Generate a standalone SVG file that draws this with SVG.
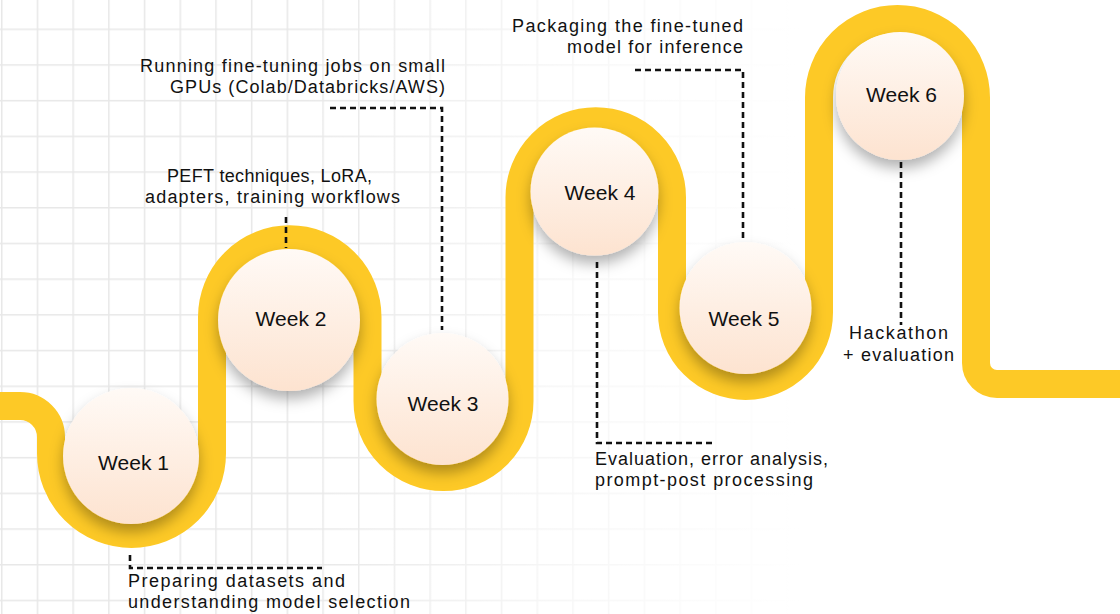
<svg xmlns="http://www.w3.org/2000/svg" width="1120" height="614" viewBox="0 0 1120 614">
  <style>
    .road { fill: none; stroke: #FDC926; stroke-width: 28; stroke-linecap: butt; stroke-linejoin: round; }
    .node { fill: url(#nodeFill); filter: url(#shadow); }
    .wk { font-family: "Liberation Sans", Arial, sans-serif; font-size: 21px; fill: #111; text-anchor: middle; }
    .desc { font-family: "Liberation Sans", Arial, sans-serif; font-size: 18px; fill: #111; }
    .dot { fill: none; stroke: #111; stroke-width: 2.6; stroke-dasharray: 6 4; }
  </style>
  <defs>
    <pattern id="grid" patternUnits="userSpaceOnUse" x="1" y="28.5" width="35.7" height="35.7">
      <path d="M0,0.75 H35.7 M0.75,0 V35.7" stroke="#e8e8e8" stroke-width="1.5" fill="none"/>
    </pattern>
    <linearGradient id="fade" gradientUnits="userSpaceOnUse" x1="300" y1="0" x2="800" y2="0">
      <stop offset="0" stop-color="#ffffff" stop-opacity="0"/>
      <stop offset="0.5" stop-color="#ffffff" stop-opacity="0.6"/>
      <stop offset="1" stop-color="#ffffff" stop-opacity="1"/>
    </linearGradient>
    <linearGradient id="nodeFill" x1="0" y1="0" x2="0" y2="1">
      <stop offset="0" stop-color="#FFFAF6"/>
      <stop offset="1" stop-color="#FDE3D0"/>
    </linearGradient>
    <filter id="shadow" x="-30%" y="-30%" width="160%" height="170%">
      <feDropShadow dx="0" dy="8" stdDeviation="7" flood-color="#000" flood-opacity="0.3"/>
    </filter>
  </defs>

  <rect width="1120" height="614" fill="#fff"/>
  <rect x="0" y="0" width="800" height="614" fill="url(#grid)"/>
  <rect x="300" y="0" width="510" height="614" fill="url(#fade)"/>

  <g id="road">
    <path class="road" d="M-5,406 H20 A31,31 0 0 1 51,437 V453.5 A80.5,80.5 0 0 0 212,453.5 V317 A77.75,77.75 0 0 1 367.5,317 V401 A76,76 0 0 0 519.5,401 V197.5 A76.25,76.25 0 0 1 672,197.5 V312.5 A73.5,73.5 0 0 0 819,312.5 V97.5 A78.5,78.5 0 0 1 976,97.5 V363 A21,21 0 0 0 997,384 H1125"/>
  </g>

  <g id="connectors">
    <path class="dot" d="M130,555 V568 H322"/>
    <path class="dot" d="M286,217 V248"/>
    <path class="dot" d="M330,108 H442 V330"/>
    <path class="dot" d="M597,262 V443 H714"/>
    <path class="dot" d="M635,70 H743 V240"/>
    <path class="dot" d="M901,162 V325"/>
  </g>

  <g id="week1">
    <circle class="node" cx="131" cy="456" r="68"/>
    <text class="wk" x="133.5" y="470">Week 1</text>
    <text class="desc" x="128" y="587" textLength="217">Preparing datasets and</text>
    <text class="desc" x="128" y="608" textLength="282">understanding model selection</text>
  </g>
  <g id="week2">
    <circle class="node" cx="289" cy="320" r="71"/>
    <text class="wk" x="291" y="326">Week 2</text>
    <text class="desc" x="167" y="182" textLength="205">PEFT techniques, LoRA,</text>
    <text class="desc" x="145" y="203" textLength="255">adapters, training workflows</text>
  </g>
  <g id="week3">
    <circle class="node" cx="442.5" cy="399" r="66"/>
    <text class="wk" x="443" y="411">Week 3</text>
    <text class="desc" x="140" y="72" textLength="305">Running fine-tuning jobs on small</text>
    <text class="desc" x="170" y="93" textLength="275">GPUs (Colab/Databricks/AWS)</text>
  </g>
  <g id="week4">
    <circle class="node" cx="594.5" cy="191.5" r="64"/>
    <text class="wk" x="600" y="200">Week 4</text>
    <text class="desc" x="595" y="465" textLength="233">Evaluation, error analysis,</text>
    <text class="desc" x="595" y="486" textLength="218">prompt-post processing</text>
  </g>
  <g id="week5">
    <circle class="node" cx="745.5" cy="308" r="66"/>
    <text class="wk" x="744" y="326">Week 5</text>
    <text class="desc" x="512" y="32" textLength="231">Packaging the fine-tuned</text>
    <text class="desc" x="567" y="53" textLength="176">model for inference</text>
  </g>
  <g id="week6">
    <circle class="node" cx="900" cy="96" r="64"/>
    <text class="wk" x="901.5" y="102">Week 6</text>
    <text class="desc" x="849" y="339" textLength="99">Hackathon</text>
    <text class="desc" x="843" y="361" textLength="111">+ evaluation</text>
  </g>
</svg>
